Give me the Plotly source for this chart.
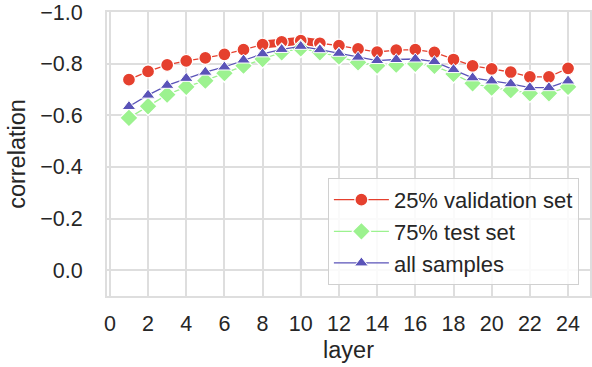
import plotly.graph_objects as go

layers = list(range(1, 25))
val_25 = [-0.738, -0.770, -0.795, -0.811, -0.822, -0.836, -0.854, -0.874, -0.884, -0.889, -0.879, -0.870,
          -0.857, -0.845, -0.852, -0.854, -0.844, -0.816, -0.791, -0.780, -0.767, -0.749, -0.749, -0.782]
test_75 = [-0.590, -0.635, -0.680, -0.710, -0.734, -0.763, -0.792, -0.818, -0.844, -0.859, -0.844, -0.827,
           -0.805, -0.792, -0.796, -0.799, -0.791, -0.760, -0.724, -0.707, -0.697, -0.685, -0.685, -0.710]
all_samples = [-0.634, -0.678, -0.716, -0.743, -0.767, -0.787, -0.814, -0.838, -0.855, -0.867, -0.854, -0.840,
               -0.825, -0.812, -0.816, -0.818, -0.808, -0.777, -0.745, -0.733, -0.722, -0.707, -0.707, -0.733]
best_layer = 10
highlight = slice(7, 11)

RED = "#e5402e"
GREEN = "#9cf28f"
BLUE = "#5a53b8"
TXT = "#262626"
GRID = "#dedede"
FAM = "Liberation Sans, Arial, sans-serif"

fig = go.Figure()
fig.add_vline(x=best_layer, line_color="#9a9a9a", line_width=1.6, layer="below")

fig.add_trace(go.Scatter(x=layers[highlight], y=val_25[highlight], mode="lines",
                         line=dict(color=RED, width=8), showlegend=False, hoverinfo="skip"))
fig.add_trace(go.Scatter(x=layers, y=val_25, mode="lines+markers", name="25% validation set",
                         line=dict(color=RED, width=1.3),
                         marker=dict(symbol="circle", size=13, color=RED, line=dict(color="white", width=1.3))))
fig.add_trace(go.Scatter(x=layers, y=test_75, mode="lines+markers", name="75% test set",
                         line=dict(color=GREEN, width=1.3),
                         marker=dict(symbol="diamond", size=14, color=GREEN, line=dict(color="white", width=1.3))))
fig.add_trace(go.Scatter(x=layers, y=all_samples, mode="lines+markers", name="all samples",
                         line=dict(color=BLUE, width=1.3),
                         marker=dict(symbol="triangle-up", size=12, color=BLUE, line=dict(color="white", width=1.0))))

fig.update_layout(
    width=592, height=367,
    margin=dict(l=107, r=2, t=12, b=71),
    paper_bgcolor="white", plot_bgcolor="white",
    font=dict(family=FAM, size=21, color=TXT),
    legend=dict(x=0.977, y=0.039, xanchor="right", yanchor="bottom",
                bgcolor="rgba(255,255,255,0.85)", bordercolor="#d0d0d0", borderwidth=1,
                font=dict(family=FAM, size=22, color=TXT),
                itemwidth=55, tracegroupgap=0),
    xaxis=dict(range=[-0.15, 25.15], tickmode="array", tickvals=list(range(0, 25, 2)),
               showgrid=True, gridcolor=GRID, gridwidth=2, zeroline=False,
               showline=True, linecolor=GRID, linewidth=2, mirror=True,
               ticks="", ticklabelstandoff=7, automargin=False,
               tickfont=dict(size=21.5),
               title=dict(text="layer", font=dict(size=23.5, color=TXT), standoff=7)),
    yaxis=dict(range=[0.1, -1.0], tickmode="array", tickvals=[-1.0, -0.8, -0.6, -0.4, -0.2, 0.0],
               tickformat=".1f",
               showgrid=True, gridcolor=GRID, gridwidth=2, zeroline=False,
               showline=True, linecolor=GRID, linewidth=2, mirror=True,
               ticks="", ticklabelstandoff=18, automargin=False,
               tickfont=dict(size=21.5),
               title=dict(text="correlation", font=dict(size=23.5, color=TXT), standoff=8)),
)

fig.write_html("out.html", config={"displayModeBar": False},
               post_script="document.body.style.margin='0';document.body.style.overflow='hidden';")
